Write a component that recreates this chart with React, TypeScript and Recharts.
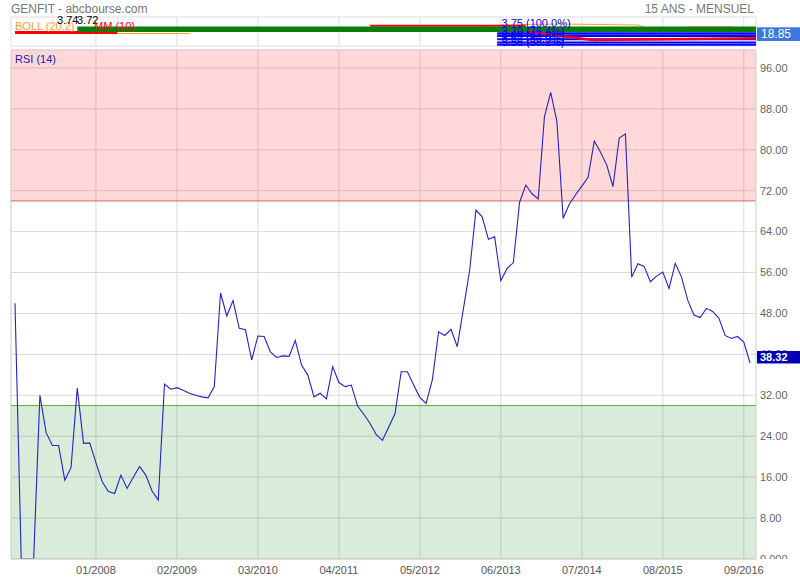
import React from 'react';
import {
  LineChart,
  Line,
  XAxis,
  YAxis,
  CartesianGrid,
  ReferenceLine,
  ReferenceArea
} from 'recharts';

// monthly RSI(14), Dec 2006 -> Oct 2016
const rsi = [
  50, 0, 0, 0, 32, 24.7, 22.2, 22.2, 15.4, 17.9,
  33.4, 22.6, 22.7, 18.8, 15.1, 13.2, 12.8, 16.4, 13.8, 16,
  18.1, 16.4, 13.3, 11.5, 34.2, 33.2, 33.5, 33, 32.4, 32,
  31.7, 31.5, 33.7, 52, 47.5, 50.5, 45.1, 44.8, 38.9, 43.6,
  43.5, 40.5, 39.4, 39.7, 39.6, 42.7, 37.9, 36, 31.7, 32.4,
  31.3, 37.6, 34.5, 33.7, 34, 29.9, 28.3, 26.5, 24.3, 23.2,
  25.8, 28.4, 36.6, 36.6, 34, 31.6, 30.4, 35, 44.4, 43.7,
  44.9, 41.5, 49, 56.5, 68.2, 66.9, 62.5, 63, 54.4, 56.8,
  57.9, 69.7, 73.1, 71.4, 70.4, 86.5, 91.2, 85.5, 66.6, 69.4,
  71.2, 72.9, 74.6, 81.7, 79.5, 77, 72.8, 82.3, 83.1, 55.1,
  57.7, 57.2, 54.2, 55.3, 56.1, 52.9, 57.8, 55.1, 50.6, 47.7,
  47.2, 49, 48.4, 47.1, 43.7, 43.1, 43.5, 42.4, 38.32
];

const xTicks = [13, 26, 39, 52, 65, 78, 91, 104, 117];
const xTickLabels = ['01/2008', '02/2009', '03/2010', '04/2011', '05/2012', '06/2013', '07/2014', '08/2015', '09/2016'];
const yTicks = [0, 8, 16, 24, 32, 40, 48, 56, 64, 72, 80, 88, 96];
const overbought = 70;
const oversold = 30;
const lastPrice = '18.85';

const X_MIN = -0.64;
const X_MAX = 118.96;
const Y_MAX = 99.5;

// top (price) panel, in panel units
const TOP_MAX = 29;
const priceLine = [[10, 16.7], [X_MAX, 16.7]];
const mmLine = [[0, 13.5], [16.4, 13.5]];
const bollLow = [[0, 12.4], [28, 12.5]];
const bollHigh = [[75, 19.3], [78, 21], [87.5, 22], [100, 21], [102, 16.7], [108.8, 19], [115.3, 19]];
const redHigh = [[57, 20.2], [82, 20.2]];
const redLow = [[82.3, 14.3], [92.7, 6], [X_MAX, 7.8]];
const fibStart = 77.4;
const fibLevels = [12.5, 10, 6.7, 3.5, 1.2];
const fibTexts = ['3.70 (76.4%)', '3.66 (61.8%)', '3.62 (50.0%)', '3.58 (38.2%)'];

const rsiData = rsi.map((v, i) => ({ i, rsi: v }));
const priceData = priceLine.map(([i, p]) => ({ i, p }));

const FONT = '"Liberation Sans", Arial, sans-serif';
const MARGIN = { top: 50, right: 0, bottom: 0, left: 11 };

function toSegments(pts: number[][]) {
  const out: { x: number; y: number }[][] = [];
  for (let k = 0; k < pts.length - 1; k++) {
    out.push([
      { x: pts[k][0], y: pts[k][1] },
      { x: pts[k + 1][0], y: pts[k + 1][1] }
    ]);
  }
  return out;
}

function YTick(props: any) {
  const { x, y, payload } = props;
  const v = payload.value;
  if (v === 0) {
    return (
      <g>
        <defs>
          <clipPath id="zeroClip">
            <rect x={x - 2} y={y - 10} width={50} height={10} />
          </clipPath>
        </defs>
        <text x={x} y={y} dy="0.35em" fontSize={11} fill="#666" fontFamily={FONT} clipPath="url(#zeroClip)">
          0.000
        </text>
      </g>
    );
  }
  return (
    <text x={x} y={y} dy="0.35em" fontSize={11} fill="#666" fontFamily={FONT}>
      {v.toFixed(2)}
    </text>
  );
}

function LastLabel(props: any) {
  const { viewBox } = props;
  if (!viewBox) return null;
  const right = viewBox.x + viewBox.width;
  return (
    <g>
      <rect x={right + 1} y={viewBox.y - 12} width={44} height={12.5} fill="#0000b4" />
      <text x={right + 4} y={viewBox.y - 2} fontSize={11} fontWeight="bold" fill="#fff" fontFamily={FONT}>
        {rsi[rsi.length - 1].toFixed(2)}
      </text>
    </g>
  );
}

export default function App() {
  return (
    <div style={{ position: 'absolute', left: 0, top: 0, width: 800, height: 580, background: '#fff', fontFamily: FONT }}>
      {/* price panel */}
      <div style={{ position: 'absolute', left: 0, top: 0 }}>
        <LineChart width={800} height={47} data={priceData} margin={{ top: 17, right: 44, bottom: 1, left: 11 }}>
          <XAxis type="number" dataKey="i" domain={[X_MIN, X_MAX]} hide allowDataOverflow />
          <YAxis type="number" domain={[0, TOP_MAX]} hide allowDataOverflow />
          <ReferenceArea x1={X_MIN} x2={X_MAX} y1={0} y2={TOP_MAX} fill="none" stroke="#dddddd" />
          {xTicks.map((t) => (
            <ReferenceLine key={t} x={t} stroke="#dddddd" />
          ))}
          {toSegments(bollLow).map((s, k) => (
            <ReferenceLine key={'bl' + k} segment={s} stroke="#f5a623" strokeWidth={1} />
          ))}
          {toSegments(bollHigh).map((s, k) => (
            <ReferenceLine key={'bh' + k} segment={s} stroke="#f5a623" strokeWidth={1} />
          ))}
          {toSegments(mmLine).map((s, k) => (
            <ReferenceLine key={'mm' + k} segment={s} stroke="#ff0000" strokeWidth={3} />
          ))}
          {toSegments(redHigh).map((s, k) => (
            <ReferenceLine key={'rh' + k} segment={s} stroke="#ff0000" strokeWidth={2} />
          ))}
          <Line dataKey="p" stroke="#0a7d0a" strokeWidth={5.5} dot={false} isAnimationActive={false} />
          {fibLevels.map((lv, k) => (
            <ReferenceLine
              key={'fib' + k}
              segment={[{ x: fibStart, y: lv }, { x: X_MAX, y: lv }]}
              stroke="#0000ff"
              strokeWidth={k === 0 ? 2.5 : 2}
            />
          ))}
          {toSegments(redLow).map((s, k) => (
            <ReferenceLine key={'rl' + k} segment={s} stroke="#ff0000" strokeWidth={2.5} />
          ))}
        </LineChart>
      </div>

      {/* RSI panel */}
      <div style={{ position: 'absolute', left: 0, top: 0 }}>
        <LineChart width={800} height={580} data={rsiData} margin={MARGIN}>
          <CartesianGrid stroke="#dadada" />
          <ReferenceArea y1={overbought} y2={Y_MAX} fill="#ff0000" fillOpacity={0.15} stroke="none" />
          <ReferenceArea y1={0} y2={oversold} fill="#007a00" fillOpacity={0.15} stroke="none" />
          <ReferenceLine x={X_MIN} stroke="#dadada" />
          <ReferenceLine y={Y_MAX} stroke="#e6d0d0" />
          <ReferenceLine y={overbought} stroke="#e06666" />
          <ReferenceLine y={oversold} stroke="#6aa84f" />
          <XAxis
            type="number"
            dataKey="i"
            domain={[X_MIN, X_MAX]}
            ticks={xTicks}
            interval={0}
            tickFormatter={(v: number) => xTickLabels[xTicks.indexOf(v)]}
            tickLine={false}
            tickSize={0}
            tickMargin={7.5}
            axisLine={{ stroke: '#cccccc' }}
            height={21}
            tick={{ fontSize: 11, fill: '#555', fontFamily: FONT }}
            allowDataOverflow
          />
          <YAxis
            orientation="right"
            type="number"
            domain={[0, Y_MAX]}
            ticks={yTicks}
            interval={0}
            tick={<YTick />}
            tickLine={false}
            tickSize={0}
            tickMargin={4}
            axisLine={{ stroke: '#dddddd' }}
            width={44}
            allowDataOverflow
          />
          <Line
            type="linear"
            dataKey="rsi"
            stroke="#2323c8"
            strokeWidth={1.1}
            dot={false}
            isAnimationActive={false}
          />
        </LineChart>
      </div>

      {/* last value tag, drawn above the axis labels */}
      <div style={{ position: 'absolute', left: 0, top: 0, pointerEvents: 'none' }}>
        <LineChart width={800} height={580} data={rsiData} margin={MARGIN}>
          <XAxis type="number" dataKey="i" domain={[X_MIN, X_MAX]} tick={false} axisLine={false} tickLine={false} height={21} allowDataOverflow />
          <YAxis orientation="right" type="number" domain={[0, Y_MAX]} tick={false} axisLine={false} tickLine={false} width={44} allowDataOverflow />
          <Line dataKey="rsi" stroke="none" dot={false} isAnimationActive={false} />
          <ReferenceLine
            y={rsi[rsi.length - 1]}
            stroke="none"
            ifOverflow="visible"
            label={(p: any) => <LastLabel {...p} />}
          />
        </LineChart>
      </div>

      {/* header texts */}
      <svg width={800} height={580} style={{ position: 'absolute', left: 0, top: 0, pointerEvents: 'none' }} fontFamily={FONT}>
        <text x={11} y={13} fontSize={12} fill="#777">GENFIT - abcbourse.com</text>
        <text x={754} y={13} fontSize={12} fill="#777" textAnchor="end">15 ANS - MENSUEL</text>
        <text x={15} y={29.5} fontSize={11} fill="#f0a030">BOLL (20,2)</text>
        <text x={57} y={23.5} fontSize={11} fill="#000">3.74</text>
        <text x={77} y={23.5} fontSize={11} fill="#000">3.72</text>
        <text x={94} y={29.5} fontSize={11} fill="#ff0000">MM (10)</text>
        <text x={501.5} y={26.5} fontSize={11} fill="#0000ff">3.75 (100.0%)</text>
        {fibTexts.map((t, k) => (
          <text key={t} x={501.5} y={35 + k * 3.5} fontSize={11} fill="#0000ff">{t}</text>
        ))}
        <rect x={757} y={27.3} width={43} height={13.7} fill="#3c78e0" />
        <text x={761} y={38.3} fontSize={12} fill="#fff">{lastPrice}</text>
        <text x={15} y={63} fontSize={11} fill="#1a1aaa">RSI (14)</text>
      </svg>
    </div>
  );
}
